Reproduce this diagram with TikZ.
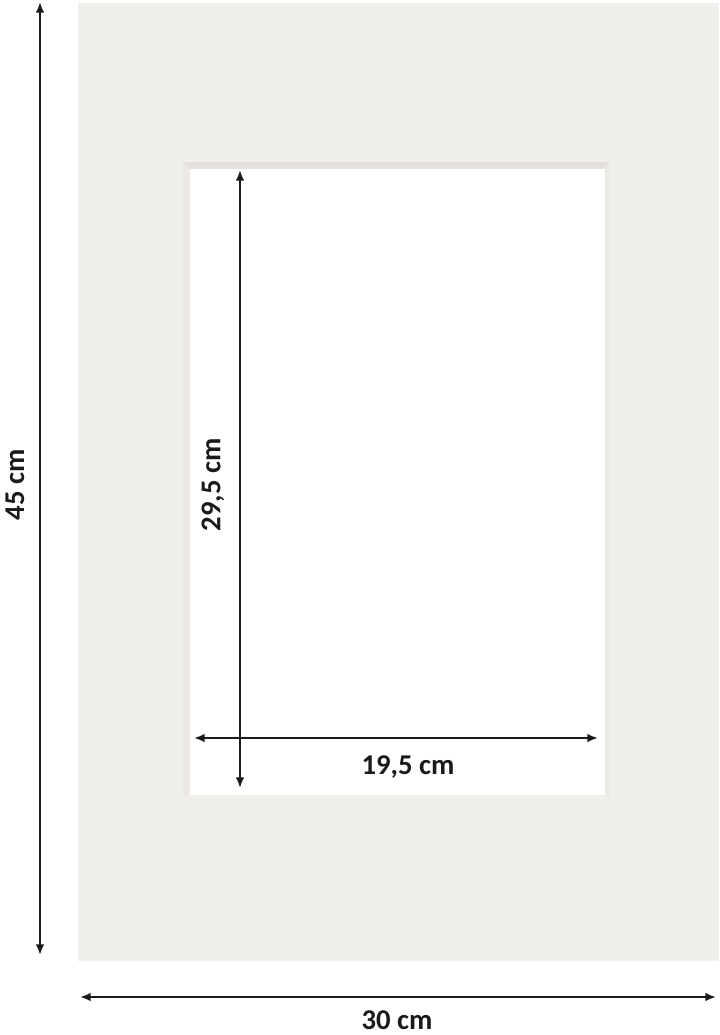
\documentclass[tikz,border=0pt]{standalone}
\usepackage{fontspec}
\setmainfont{Carlito}
\usetikzlibrary{arrows.meta}
\definecolor{matc}{HTML}{F0EFEB}
\definecolor{bevtop}{HTML}{E7E1DB}
\definecolor{bevside}{HTML}{ECE9E4}
\definecolor{arrc}{HTML}{1A1A1A}
\tikzset{
  dim/.style={draw=arrc, line width=1.5pt, {Latex[length=8pt,width=6.5pt]}-{Latex[length=8pt,width=6.5pt]}},
  lbl/.style={font=\fontsize{21.5}{25}\selectfont\bfseries, text=arrc, inner sep=0pt}
}
\begin{document}
\begin{tikzpicture}[x=0.75pt,y=-0.75pt]
\useasboundingbox (0,0) rectangle (720,1035);
\fill[white] (0,0) rectangle (720,1035);
% mat
\fill[matc] (78,3) rectangle (719,961);
% window bevels
\fill[bevtop] (183,162) -- (609,162) -- (605,169) -- (190,169) -- cycle;
\fill[bevside] (183,162) -- (190,169) -- (190,795) -- (183,797) -- cycle;
\fill[bevside] (609,162) -- (605,169) -- (605,795) -- (609,797) -- cycle;
\fill[white] (190,169) rectangle (605,795);
% coordinates
\coordinate (ovt) at (40,2);
\coordinate (ovb) at (40,955);
\coordinate (ohl) at (80,997);
\coordinate (ohr) at (716,997);
\coordinate (ivt) at (240,170);
\coordinate (ivb) at (240,788);
\coordinate (ihl) at (194,738);
\coordinate (ihr) at (598,738);
% arrows
\draw[dim] (ovt) -- (ovb);
\draw[dim] (ohl) -- (ohr);
\draw[dim] (ivt) -- (ivb);
\draw[dim] (ihl) -- (ihr);
% labels
\node[lbl, rotate=90] (l45) at (15,485) {45 cm};
\node[lbl, rotate=90] (l295) at (213,485) {29,5 cm};
\node[lbl] (l195) at (408,767) {19,5 cm};
\node[lbl] (l30) at (397,1020) {30 cm};
\end{tikzpicture}
\end{document}
